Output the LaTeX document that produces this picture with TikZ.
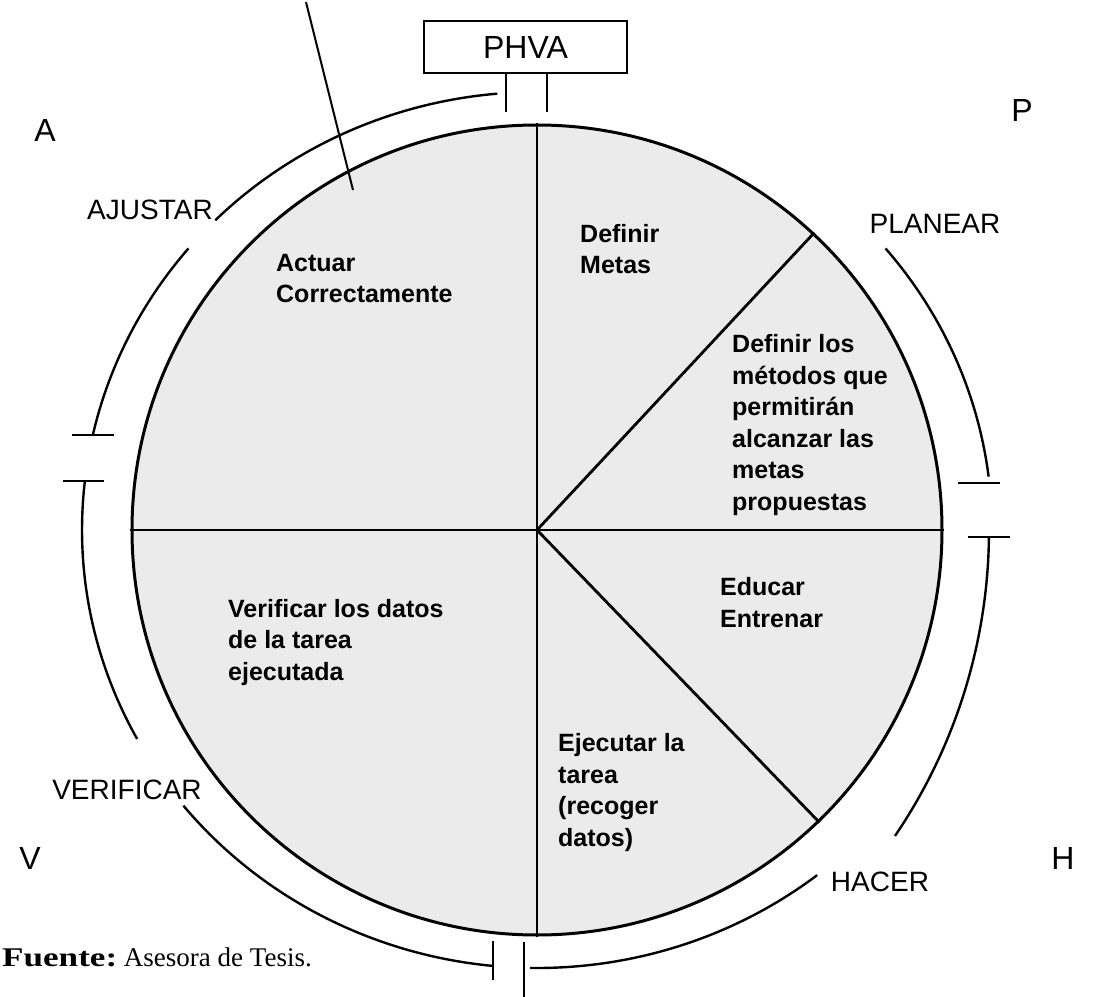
\documentclass[tikz,border=0pt]{standalone}
\usepackage{graphicx}
\usepackage{fontspec}
\setmainfont{Liberation Sans}
\newfontfamily\fuentefont{Liberation Serif}
\begin{document}
\begin{tikzpicture}[x=1pt,y=1pt,
  inner/.style={font=\bfseries\fontsize{25}{31.5}\selectfont, align=left, anchor=base west, inner sep=0pt},
  phase/.style={font=\fontsize{28}{32}\selectfont, inner sep=0pt},
  letter/.style={font=\fontsize{32}{36}\selectfont, inner sep=0pt},
  ring/.style={line width=2.4pt},
  tick/.style={line width=2.2pt},
  spoke/.style={line width=2.8pt},
]
\useasboundingbox (-537,-466) rectangle (560,530);

% central disc
\coordinate (O) at (0,0);
\node[circle, draw, fill=black!8, line width=3pt, minimum size=810pt, inner sep=0pt] (disc) at (O) {};
\draw[spoke] (disc.north) -- (disc.south);
\draw[spoke] (disc.west) -- (disc.east);
\draw[spoke] (O) -- (disc.47);
\draw[spoke] (O) -- (disc.-46);

% PHVA box
\node[draw, line width=2pt, minimum width=203pt, minimum height=52pt, inner sep=0pt,
      font=\fontsize{32}{36}\selectfont] (phva) at (-11.5,483) {PHVA};
\draw[tick] ([xshift=-19.5pt]phva.south) -- ++(0,-38);
\draw[tick] ([xshift=21.5pt]phva.south) -- ++(0,-38);

% leader line
\coordinate (lead1) at (-231,528);
\coordinate (lead2) at (-184,340);
\draw[line width=2pt] (lead1) -- (lead2);

% outer ring arcs
\draw[ring] (95:455 and 438) arc[start angle=95, end angle=135, x radius=455, y radius=438];
\draw[ring] (140:455 and 438) arc[start angle=140, end angle=167.5, x radius=455, y radius=438] coordinate (a2end);
\draw[tick] ([xshift=-21pt]a2end) -- ([xshift=21pt]a2end);

\draw[ring] (173.6:455 and 438) coordinate (a3start) arc[start angle=173.6, end angle=208.5, x radius=455, y radius=438];
\draw[tick] ([xshift=-22pt]a3start) -- ([xshift=19pt]a3start);

\draw[ring] (219:455 and 438) arc[start angle=219, end angle=264.5, x radius=455, y radius=438] coordinate (a4end);
\draw[tick] ([yshift=25pt]a4end) -- ([yshift=-14pt]a4end);

\draw[ring] (269.1:455 and 438) coordinate (a5start) arc[start angle=269.1, end angle=308, x radius=455, y radius=438];
\draw[tick] ([shift={(-6pt,26pt)}]a5start) -- ([shift={(-6pt,-30pt)}]a5start);

\coordinate (c6) at (-91.6,-0.4);
\draw[ring] ([shift={(-34.2:543.6)}]c6) arc[start angle=-34.2, end angle=-0.7, radius=543.6] coordinate (a6end);
\draw[tick] ([xshift=-21pt]a6end) -- ([xshift=21pt]a6end);

\draw[ring] (40:455 and 438) arc[start angle=40, end angle=7, x radius=455, y radius=438] coordinate (a7end);
\draw[tick] ([shift={(-31pt,-6pt)}]a7end) -- ([shift={(11pt,-6pt)}]a7end);

% corner letters
\node[letter] (lA) at (-492,400) {A};
\node[letter] (lP) at (485,420) {P};
\node[letter] (lV) at (-507,-328) {V};
\node[letter] (lH) at (526,-328) {H};

% phase labels
\node[phase] (ajustar) at (-387,320) {AJUSTAR};
\node[phase] (planear) at (398,306) {PLANEAR};
\node[phase] (verificar) at (-410,-260) {VERIFICAR};
\node[phase] (hacer) at (343,-352) {HACER};

% sector texts (anchored at the baseline of their last line)
\node[inner] (actuar) at (-261,227) {Actuar\\Correctamente};
\node[inner] (metas) at (43,256) {Definir\\Metas};
\node[inner] (metodos) at (195,20) {Definir los\\métodos que\\permitirán\\alcanzar las\\metas\\propuestas};
\node[inner] (educar) at (183,-97) {Educar\\Entrenar};
\node[inner] (verif) at (-309,-150) {Verificar los datos\\de la tarea\\ejecutada};
\node[inner] (ejec) at (21,-316) {Ejecutar la\\tarea\\(recoger\\datos)};

% source
\node[anchor=base west, inner sep=0pt, font=\fuentefont\fontsize{27}{30}\selectfont] (fuente) at (-535,-436) {\scalebox{1.3}[1]{\textbf{Fuente:}} Asesora de Tesis.};
\end{tikzpicture}
\end{document}
